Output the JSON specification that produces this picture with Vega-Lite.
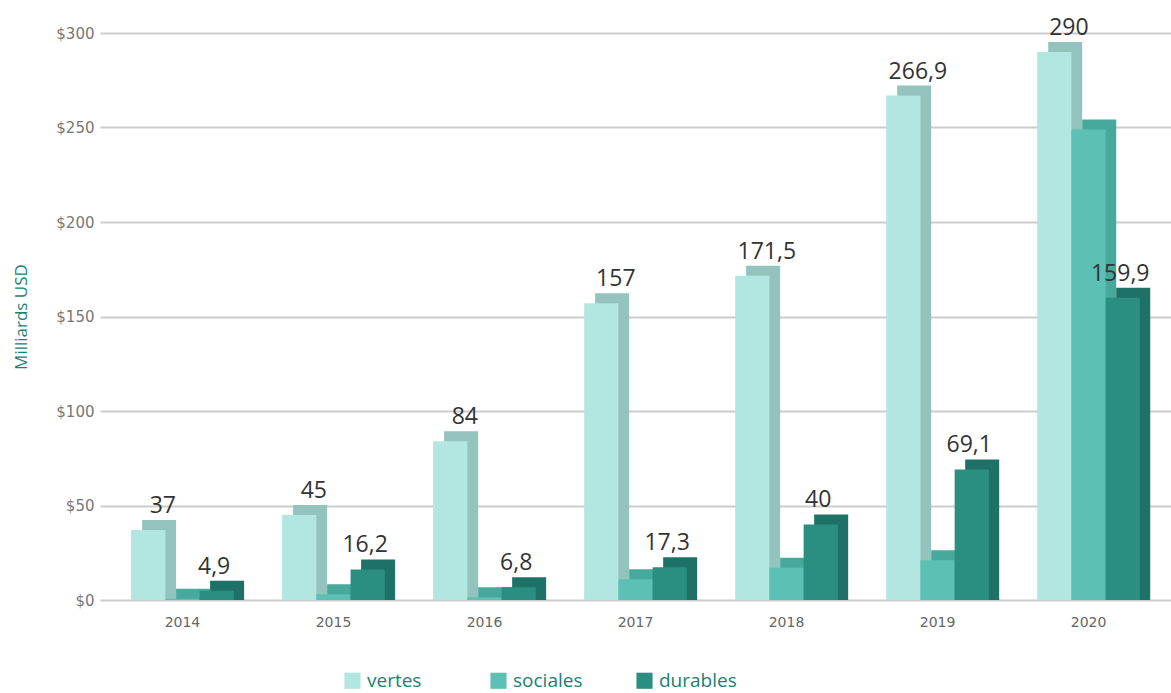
{
  "$schema": "https://vega.github.io/schema/vega-lite/v6.json",
  "width": 1071,
  "height": 567,
  "autosize": {"type": "none"},
  "padding": {"left": 100, "top": 33, "right": 0, "bottom": 93},
  "background": "white",
  "config": {"view": {"stroke": null}, "font": "Open Sans"},
  "data": {
    "values": [
      {"year": "2014", "type": "vertes", "value": 37, "label": "37"},
      {"year": "2014", "type": "sociales", "value": 0.6, "label": ""},
      {"year": "2014", "type": "durables", "value": 4.9, "label": "4,9"},
      {"year": "2015", "type": "vertes", "value": 45, "label": "45"},
      {"year": "2015", "type": "sociales", "value": 3, "label": ""},
      {"year": "2015", "type": "durables", "value": 16.2, "label": "16,2"},
      {"year": "2016", "type": "vertes", "value": 84, "label": "84"},
      {"year": "2016", "type": "sociales", "value": 1.5, "label": ""},
      {"year": "2016", "type": "durables", "value": 6.8, "label": "6,8"},
      {"year": "2017", "type": "vertes", "value": 157, "label": "157"},
      {"year": "2017", "type": "sociales", "value": 11, "label": ""},
      {"year": "2017", "type": "durables", "value": 17.3, "label": "17,3"},
      {"year": "2018", "type": "vertes", "value": 171.5, "label": "171,5"},
      {"year": "2018", "type": "sociales", "value": 17, "label": ""},
      {"year": "2018", "type": "durables", "value": 40, "label": "40"},
      {"year": "2019", "type": "vertes", "value": 266.9, "label": "266,9"},
      {"year": "2019", "type": "sociales", "value": 21, "label": ""},
      {"year": "2019", "type": "durables", "value": 69.1, "label": "69,1"},
      {"year": "2020", "type": "vertes", "value": 290, "label": "290"},
      {"year": "2020", "type": "sociales", "value": 249, "label": ""},
      {"year": "2020", "type": "durables", "value": 159.9, "label": "159,9"}
    ]
  },
  "encoding": {
    "x": {
      "field": "year",
      "type": "nominal",
      "scale": {"paddingInner": 0.32, "paddingOuter": 0.206},
      "axis": {
        "title": null,
        "labelAngle": 0,
        "domain": false,
        "ticks": false,
        "labelFont": "DejaVu Sans",
        "labelFontSize": 14,
        "labelColor": "#666666",
        "labelPadding": 15
      }
    },
    "y": {
      "field": "value",
      "type": "quantitative",
      "scale": {"domain": [0, 300]},
      "axis": {
        "values": [0, 50, 100, 150, 200, 250, 300],
        "format": "$,.0f",
        "grid": true,
        "gridColor": "#cccccc",
        "gridWidth": 2,
        "domain": false,
        "ticks": false,
        "labelFont": "DejaVu Sans",
        "labelFontSize": 15,
        "labelColor": "#777777",
        "labelPadding": 6,
        "title": "Milliards USD",
        "titleFont": "Open Sans",
        "titleFontSize": 17,
        "titleFontWeight": "normal",
        "titleColor": "#1a7f74",
        "titlePadding": 25
      }
    }
  },
  "layer": [
    {
      "mark": {"type": "bar", "yOffset": -10, "y2Offset": 0},
      "encoding": {
        "y": {"field": "value", "type": "quantitative", "stack": null},
        "y2": {"datum": 0},
        "xOffset": {
          "field": "type",
          "type": "nominal",
          "sort": ["vertes", "sociales", "durables"],
          "scale": {"range": [11, 113], "paddingInner": 0}
        },
        "color": {
          "field": "type",
          "type": "nominal",
          "sort": ["vertes", "sociales", "durables"],
          "scale": {"domain": ["vertes", "sociales", "durables"], "range": ["#93c3bd", "#47a89c", "#1d7167"]},
          "legend": null
        }
      }
    },
    {
      "mark": {"type": "bar"},
      "encoding": {
        "xOffset": {
          "field": "type",
          "type": "nominal",
          "sort": ["vertes", "sociales", "durables"],
          "scale": {"paddingInner": 0}
        },
        "color": {
          "field": "type",
          "type": "nominal",
          "sort": ["vertes", "sociales", "durables"],
          "scale": {"domain": ["vertes", "sociales", "durables"], "range": ["#b2e6e1", "#5cc0b5", "#2a8e81"]},
          "legend": {
            "title": null,
            "orient": "none",
            "legendX": 243,
            "legendY": 638,
            "direction": "horizontal",
            "columns": 3,
            "gridAlign": "all",
            "columnPadding": 44,
            "symbolType": "square",
            "symbolSize": 260,
            "symbolStrokeWidth": 0,
            "symbolOpacity": 1,
            "labelFont": "Open Sans",
            "labelFontSize": 19,
            "labelColor": "#1a7f74",
            "labelOffset": 5
          }
        }
      }
    },
    {
      "transform": [{"filter": "datum.type != 'sociales'"}],
      "mark": {"type": "text", "baseline": "bottom", "dy": -12, "dx": 6, "fontSize": 23, "font": "Open Sans", "color": "#333333"},
      "encoding": {
        "xOffset": {
          "field": "type",
          "type": "nominal",
          "sort": ["vertes", "sociales", "durables"],
          "scale": {"paddingInner": 0}
        },
        "text": {"field": "label"}
      }
    }
  ],
  "resolve": {"scale": {"color": "independent", "xOffset": "independent"}}
}
